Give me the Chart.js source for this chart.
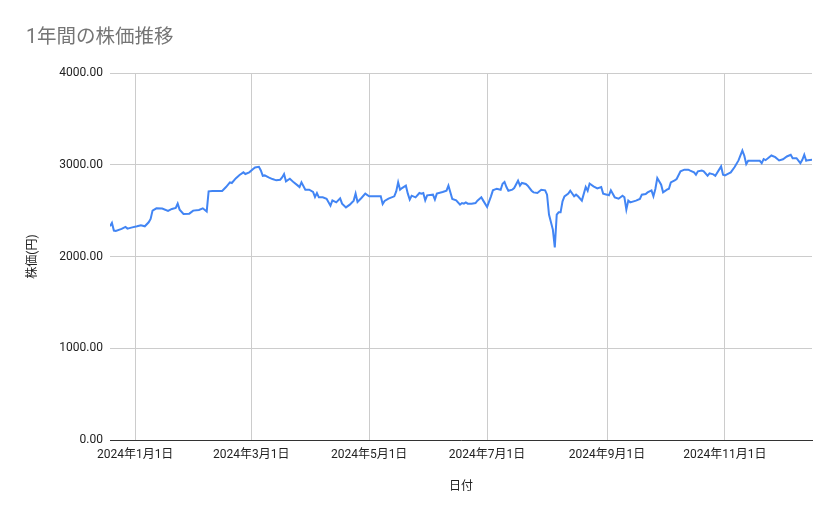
<!DOCTYPE html>
<html lang="ja">
<head>
<meta charset="utf-8">
<title>1年間の株価推移</title>
<script src="https://cdn.jsdelivr.net/npm/chart.js@4.4.1/dist/chart.umd.min.js"></script>
<style>
    html, body { margin: 0; padding: 0; background: #fff; }
    #wrap { width: 839px; height: 519px; position: relative; }
</style>
</head>
<body>
<div id="wrap"><canvas id="stockChart"></canvas></div>
<script>
// 日付と終値
const dates = [
    '2023-12-19','2023-12-20','2023-12-21','2023-12-22','2023-12-25','2023-12-27','2023-12-28','2023-12-30',
    '2024-01-02','2024-01-04','2024-01-06','2024-01-08','2024-01-09','2024-01-10','2024-01-12','2024-01-15',
    '2024-01-18','2024-01-20','2024-01-22','2024-01-23','2024-01-24','2024-01-26','2024-01-29','2024-01-31',
    '2024-02-03','2024-02-05','2024-02-07','2024-02-08','2024-02-10','2024-02-15','2024-02-17','2024-02-19',
    '2024-02-20','2024-02-22','2024-02-24','2024-02-26','2024-02-27','2024-02-29',
    '2024-03-02','2024-03-03','2024-03-05','2024-03-06','2024-03-07','2024-03-08','2024-03-10','2024-03-12',
    '2024-03-14','2024-03-16','2024-03-17','2024-03-18','2024-03-19','2024-03-21','2024-03-23','2024-03-25',
    '2024-03-26','2024-03-27','2024-03-29','2024-03-31',
    '2024-04-02','2024-04-03','2024-04-04','2024-04-05','2024-04-07','2024-04-09','2024-04-11','2024-04-12',
    '2024-04-14','2024-04-16','2024-04-17','2024-04-19','2024-04-21','2024-04-23','2024-04-24','2024-04-25',
    '2024-04-27','2024-04-29',
    '2024-05-01','2024-05-04','2024-05-07','2024-05-08','2024-05-09','2024-05-11','2024-05-14','2024-05-15',
    '2024-05-16','2024-05-17','2024-05-18','2024-05-20','2024-05-21','2024-05-22','2024-05-23','2024-05-25',
    '2024-05-27','2024-05-28','2024-05-29','2024-05-30','2024-05-31',
    '2024-06-03','2024-06-04','2024-06-05','2024-06-08','2024-06-10','2024-06-11','2024-06-13','2024-06-15',
    '2024-06-17','2024-06-18','2024-06-19','2024-06-20','2024-06-21','2024-06-23','2024-06-25','2024-06-26',
    '2024-06-28','2024-06-29',
    '2024-07-01','2024-07-03','2024-07-04','2024-07-06','2024-07-08','2024-07-09','2024-07-10','2024-07-11',
    '2024-07-12','2024-07-14','2024-07-15','2024-07-17','2024-07-18','2024-07-19','2024-07-21','2024-07-22',
    '2024-07-24','2024-07-25','2024-07-27','2024-07-29','2024-07-31',
    '2024-08-01','2024-08-02','2024-08-04','2024-08-05','2024-08-06','2024-08-07','2024-08-08','2024-08-09',
    '2024-08-10','2024-08-12','2024-08-13','2024-08-15','2024-08-16','2024-08-17','2024-08-19','2024-08-21',
    '2024-08-22','2024-08-23','2024-08-25','2024-08-27','2024-08-29','2024-08-30',
    '2024-09-01','2024-09-02','2024-09-03','2024-09-05','2024-09-07','2024-09-09','2024-09-10','2024-09-11',
    '2024-09-12','2024-09-13','2024-09-16','2024-09-18','2024-09-19','2024-09-21','2024-09-22','2024-09-24',
    '2024-09-25','2024-09-26','2024-09-27','2024-09-29','2024-09-30',
    '2024-10-02','2024-10-03','2024-10-04','2024-10-06','2024-10-07','2024-10-09','2024-10-11','2024-10-13',
    '2024-10-14','2024-10-16','2024-10-17','2024-10-18','2024-10-20','2024-10-21','2024-10-23','2024-10-24',
    '2024-10-26','2024-10-27','2024-10-30','2024-10-31',
    '2024-11-01','2024-11-03','2024-11-04','2024-11-06','2024-11-08','2024-11-09','2024-11-10','2024-11-11',
    '2024-11-12','2024-11-13','2024-11-16','2024-11-19','2024-11-20','2024-11-21','2024-11-22','2024-11-25',
    '2024-11-27','2024-11-29',
    '2024-12-01','2024-12-03','2024-12-05','2024-12-06','2024-12-08','2024-12-10','2024-12-11','2024-12-12',
    '2024-12-13','2024-12-14','2024-12-16'
];

const prices = [
    2329, 2366, 2283, 2279, 2301, 2323, 2304, 2315,
    2329, 2341, 2329, 2373, 2410, 2500, 2525, 2522,
    2496, 2518, 2529, 2576, 2511, 2464, 2467, 2500,
    2507, 2525, 2491, 2710, 2714, 2714, 2757, 2808,
    2801, 2851, 2888, 2917, 2899, 2917,
    2953, 2971, 2978, 2938, 2880, 2884, 2862, 2844,
    2830, 2837, 2862, 2899, 2819, 2848, 2808, 2775,
    2757, 2808, 2728, 2728,
    2703, 2649, 2692, 2645, 2645, 2630, 2554, 2612,
    2590, 2634, 2576, 2535, 2565, 2609, 2685, 2594,
    2638, 2685,
    2656, 2656, 2656, 2572, 2605, 2630, 2656, 2710,
    2808, 2728, 2746, 2772, 2685, 2620, 2663, 2645,
    2692, 2685, 2692, 2612, 2667,
    2674, 2620, 2685, 2703, 2717, 2772, 2627, 2612,
    2565, 2583, 2576, 2590, 2576, 2576, 2583, 2609,
    2645, 2609,
    2540, 2656, 2721, 2739, 2728, 2793, 2812, 2757,
    2717, 2728, 2746, 2826, 2772, 2801, 2790, 2772,
    2717, 2699, 2692, 2728, 2721,
    2674, 2457, 2293, 2100, 2457, 2482, 2482, 2601,
    2656, 2685, 2717, 2656, 2674, 2656, 2609, 2757,
    2717, 2795, 2765, 2743, 2757, 2685,
    2674, 2667, 2721, 2645, 2630, 2663, 2645, 2511,
    2609, 2590, 2609, 2627, 2674, 2681, 2699, 2721,
    2656, 2736, 2855, 2783, 2699,
    2728, 2739, 2808, 2830, 2844, 2928, 2946, 2946,
    2935, 2917, 2891, 2928, 2938, 2928, 2880, 2906,
    2895, 2880, 2982, 2891,
    2884, 2906, 2917, 2975, 3047, 3101, 3155, 3098,
    3007, 3043, 3043, 3043, 3018, 3062, 3050, 3101,
    3083, 3047,
    3060, 3090, 3109, 3072, 3072, 3018, 3054, 3109,
    3043, 3050, 3054
];

// X軸の目盛り
const xTickDates = ['2024-01-01', '2024-03-01', '2024-05-01', '2024-07-01', '2024-09-01', '2024-11-01'];
const xTickLabels = ['2024年1月1日', '2024年3月1日', '2024年5月1日', '2024年7月1日', '2024年9月1日', '2024年11月1日'];

// Y軸の目盛り
const yTicks = [0, 1000, 2000, 3000, 4000];

// 日付 → 2024/1/1 からの日数
const BASE = Date.UTC(2024, 0, 1);
function dayNum(s) {
    const [y, m, d] = s.split('-').map(Number);
    return (Date.UTC(y, m - 1, d) - BASE) / 86400000;
}

const points = dates.map((d, i) => ({ x: dayNum(d), y: prices[i] }));
const tickDays = xTickDates.map(dayNum);

const FONT = "Roboto, 'Noto Sans CJK JP', Arial, sans-serif";
Chart.defaults.font.family = FONT;
Chart.defaults.color = '#222222';

new Chart(document.getElementById('stockChart'), {
    type: 'line',
    data: {
        datasets: [{
            label: '株価',
            data: points,
            borderColor: '#4285F4',
            backgroundColor: '#4285F4',
            borderWidth: 2,
            pointRadius: 0,
            tension: 0,
            fill: false
        }]
    },
    options: {
        responsive: true,
        maintainAspectRatio: false,
        animation: false,
        layout: { padding: { left: 26, right: 27, top: 0, bottom: 0 } },
        plugins: {
            legend: { display: false },
            tooltip: { enabled: false },
            title: {
                display: true,
                text: '1年間の株価推移',
                align: 'start',
                color: '#757575',
                font: { size: 19.5, weight: 'normal', family: FONT },
                padding: { top: 26, bottom: 23.6 }
            }
        },
        scales: {
            x: {
                type: 'linear',
                min: dayNum(dates[0]),
                max: dayNum(dates[dates.length - 1]),
                afterBuildTicks: scale => {
                    scale.ticks = tickDays.map(v => ({ value: v }));
                },
                afterFit: scale => { scale.height = 79; },
                ticks: {
                    autoSkip: false,
                    maxRotation: 0,
                    padding: 8,
                    font: { size: 12 },
                    color: '#222222',
                    callback: (value) => {
                        const i = tickDays.indexOf(value);
                        return i >= 0 ? xTickLabels[i] : '';
                    }
                },
                grid: { color: '#cccccc', drawTicks: false },
                border: { display: true, color: '#333333', width: 1 },
                title: {
                    display: true,
                    text: '日付',
                    color: '#222222',
                    font: { size: 12 },
                    padding: { top: 0, bottom: 25 }
                }
            },
            y: {
                min: 0,
                max: 4000,
                afterBuildTicks: scale => {
                    scale.ticks = yTicks.map(v => ({ value: v }));
                },
                afterFit: scale => { scale.width = 84; },
                ticks: {
                    padding: 7,
                    font: { size: 12 },
                    color: '#222222',
                    callback: v => Number(v).toFixed(2)
                },
                grid: { color: '#cccccc', drawTicks: false },
                border: { display: false },
                title: {
                    display: true,
                    text: '株価(円)',
                    color: '#222222',
                    font: { size: 12 },
                    padding: { top: 0, bottom: 0 }
                }
            }
        }
    }
});
</script>
</body>
</html>
